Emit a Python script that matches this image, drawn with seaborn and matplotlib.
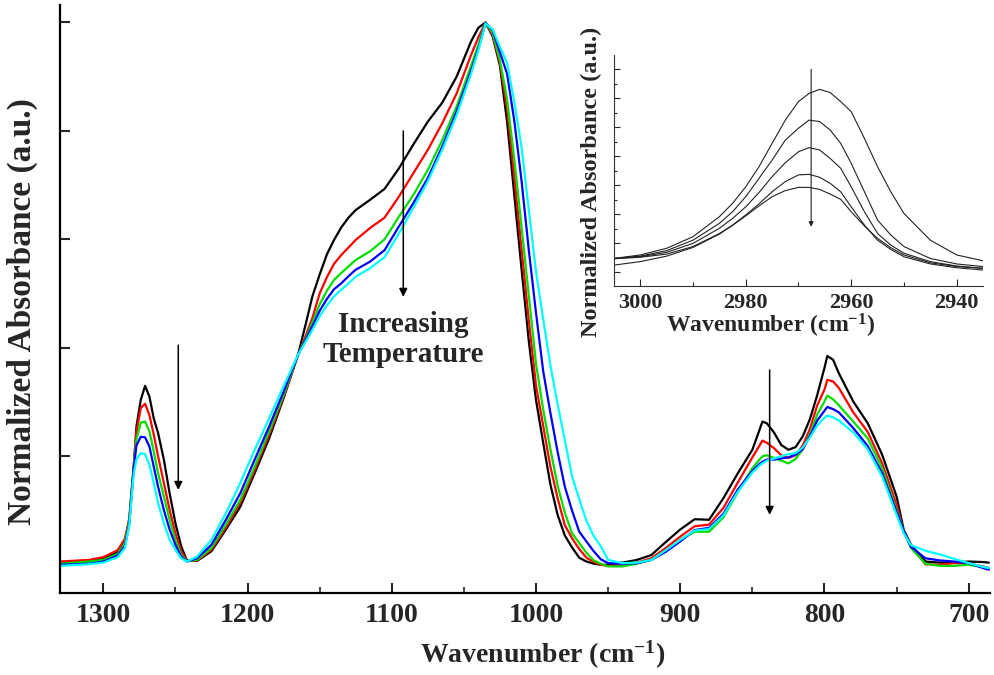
import numpy as np
import pandas as pd
import matplotlib
matplotlib.use("Agg")
import matplotlib.pyplot as plt
import seaborn as sns
from matplotlib.ticker import MultipleLocator

# === main spectra (normalized absorbance) ===
wavenumber = [1330, 1310, 1300, 1290, 1285, 1282, 1279, 1277, 1274, 1271, 1268, 1265, 1262, 1258, 1254, 1250, 1246, 1242,
              1235, 1225, 1215, 1205, 1195, 1185, 1175, 1165, 1160, 1155, 1150, 1145, 1140, 1135, 1130, 1125, 1115, 1105,
              1095, 1085, 1075, 1065, 1055, 1045, 1040, 1035,
              1030, 1025, 1020, 1015, 1010, 1005, 1000, 995, 990, 985, 980, 975, 970, 965, 960, 955, 950,
              940, 930, 920, 910, 900, 890, 880, 870, 860, 850, 845, 843, 840, 835, 830, 825, 820, 815, 810, 805,
              800, 798, 794, 790, 780, 770, 760, 750, 745, 740, 730, 720, 710, 700, 690, 686]

abs_black = [0.004, 0.007, 0.012, 0.023, 0.043, 0.080, 0.175, 0.255, 0.304, 0.330, 0.310, 0.270, 0.243, 0.194, 0.132, 0.077, 0.034, 0.008,
             0.007, 0.025, 0.065, 0.107, 0.169, 0.233, 0.307, 0.387, 0.440, 0.495, 0.535, 0.572, 0.599, 0.622, 0.640, 0.654, 0.673, 0.693,
             0.731, 0.775, 0.817, 0.852, 0.900, 0.965, 0.990, 1.0,
             0.974, 0.920, 0.816, 0.681, 0.545, 0.413, 0.304, 0.225, 0.148, 0.092, 0.054, 0.032, 0.013, 0.006, 0.002, 0.0, 0.0,
             0.004, 0.009, 0.018, 0.042, 0.065, 0.084, 0.083, 0.123, 0.169, 0.212, 0.249, 0.264, 0.261, 0.244, 0.221, 0.212, 0.217, 0.237, 0.269, 0.313,
             0.363, 0.385, 0.378, 0.353, 0.301, 0.261, 0.203, 0.126, 0.064, 0.037, 0.006, 0.004, 0.004, 0.006, 0.005, 0.004]

abs_red = [0.006, 0.009, 0.014, 0.027, 0.048, 0.085, 0.180, 0.245, 0.289, 0.297, 0.276, 0.240, 0.200, 0.151, 0.101, 0.058, 0.025, 0.007,
           0.008, 0.028, 0.069, 0.114, 0.175, 0.240, 0.310, 0.387, 0.420, 0.455, 0.500, 0.530, 0.555, 0.571, 0.585, 0.599, 0.621, 0.640,
           0.679, 0.722, 0.765, 0.814, 0.869, 0.940, 0.972, 1.0,
           0.977, 0.925, 0.841, 0.714, 0.582, 0.451, 0.331, 0.256, 0.181, 0.123, 0.073, 0.049, 0.029, 0.013, 0.005, 0.0, -0.002,
           -0.001, 0.004, 0.012, 0.031, 0.052, 0.071, 0.074, 0.105, 0.152, 0.198, 0.220, 0.229, 0.225, 0.215, 0.202, 0.197, 0.202, 0.220, 0.251, 0.294,
           0.323, 0.341, 0.338, 0.326, 0.281, 0.245, 0.187, 0.111, 0.060, 0.034, 0.001, 0.0, 0.003, 0.002, -0.003, -0.006]

abs_green = [0.002, 0.006, 0.009, 0.020, 0.040, 0.080, 0.178, 0.232, 0.262, 0.264, 0.246, 0.209, 0.169, 0.126, 0.083, 0.046, 0.018, 0.007,
             0.009, 0.031, 0.074, 0.120, 0.181, 0.246, 0.313, 0.387, 0.415, 0.447, 0.480, 0.505, 0.525, 0.538, 0.550, 0.562, 0.578, 0.600,
             0.642, 0.682, 0.728, 0.783, 0.845, 0.920, 0.958, 1.0,
             0.980, 0.930, 0.858, 0.747, 0.623, 0.497, 0.371, 0.286, 0.213, 0.146, 0.096, 0.058, 0.040, 0.022, 0.008, 0.002, -0.003,
             -0.003, 0.002, 0.009, 0.026, 0.046, 0.061, 0.061, 0.088, 0.134, 0.178, 0.194, 0.200, 0.202, 0.197, 0.192, 0.187, 0.195, 0.213, 0.241, 0.277,
             0.301, 0.312, 0.305, 0.294, 0.264, 0.233, 0.178, 0.101, 0.062, 0.031, 0.002, -0.002, -0.002, 0.0, -0.004, -0.006]

abs_blue = [0.0, 0.002, 0.006, 0.017, 0.035, 0.075, 0.175, 0.220, 0.236, 0.235, 0.218, 0.181, 0.144, 0.101, 0.065, 0.037, 0.015, 0.006,
            0.012, 0.037, 0.083, 0.132, 0.194, 0.255, 0.319, 0.387, 0.413, 0.440, 0.468, 0.490, 0.508, 0.519, 0.532, 0.544, 0.559, 0.580,
            0.624, 0.667, 0.713, 0.771, 0.836, 0.911, 0.951, 0.999,
            0.985, 0.945, 0.905, 0.818, 0.708, 0.581, 0.465, 0.357, 0.280, 0.208, 0.144, 0.100, 0.061, 0.043, 0.025, 0.010, 0.003,
            0.002, 0.003, 0.009, 0.024, 0.043, 0.064, 0.068, 0.094, 0.139, 0.173, 0.186, 0.190, 0.194, 0.194, 0.196, 0.198, 0.203, 0.213, 0.238, 0.266,
            0.284, 0.291, 0.287, 0.281, 0.252, 0.219, 0.169, 0.098, 0.062, 0.033, 0.012, 0.008, 0.006, 0.003, -0.006, -0.009]

abs_cyan = [-0.002, 0.001, 0.004, 0.014, 0.031, 0.072, 0.165, 0.194, 0.206, 0.204, 0.184, 0.151, 0.114, 0.077, 0.046, 0.028, 0.012, 0.006,
            0.015, 0.046, 0.095, 0.151, 0.212, 0.270, 0.329, 0.387, 0.410, 0.433, 0.458, 0.478, 0.495, 0.507, 0.519, 0.531, 0.547, 0.567,
            0.611, 0.658, 0.707, 0.765, 0.829, 0.905, 0.948, 0.998,
            0.987, 0.955, 0.925, 0.853, 0.770, 0.655, 0.541, 0.453, 0.368, 0.296, 0.230, 0.163, 0.121, 0.081, 0.053, 0.034, 0.009,
            0.003, 0.004, 0.009, 0.027, 0.046, 0.063, 0.066, 0.091, 0.135, 0.170, 0.183, 0.187, 0.192, 0.196, 0.200, 0.204, 0.206, 0.216, 0.235, 0.257,
            0.271, 0.275, 0.272, 0.266, 0.244, 0.213, 0.163, 0.092, 0.058, 0.036, 0.026, 0.019, 0.011, 0.003, -0.004, -0.006]

spectra = ["T1", "T2", "T3", "T4", "T5"]
colors = ["#000000", "#ff0000", "#00dd00", "#0000ff", "#00ffff"]

# === inset: C-H stretch band ===
inset_wn = [3005, 3000, 2995, 2990, 2985, 2982.5, 2980, 2977.5, 2975, 2972.5, 2970, 2968, 2966, 2964, 2962, 2960,
            2957.5, 2955, 2952.5, 2950, 2945, 2940, 2935]
inset_1 = [0.48, 0.60, 0.83, 1.23, 1.92, 2.38, 2.95, 3.64, 4.45, 5.25, 5.89, 6.17, 6.31, 6.20, 5.89, 5.54,
           4.62, 3.64, 2.78, 2.03, 1.11, 0.60, 0.40]
inset_2 = [0.48, 0.56, 0.75, 1.11, 1.69, 2.09, 2.61, 3.24, 3.87, 4.56, 4.97, 5.25, 5.20, 4.91, 4.45, 3.76,
           2.78, 1.80, 1.29, 0.89, 0.48, 0.29, 0.20]
inset_3 = [0.48, 0.54, 0.69, 1.00, 1.52, 1.86, 2.26, 2.75, 3.30, 3.78, 4.16, 4.30, 4.22, 3.93, 3.59, 2.95,
           2.09, 1.34, 0.94, 0.66, 0.37, 0.22, 0.14]
inset_4 = [0.47, 0.52, 0.63, 0.89, 1.34, 1.63, 1.98, 2.36, 2.78, 3.13, 3.36, 3.38, 3.28, 3.07, 2.78, 2.26,
           1.63, 1.11, 0.79, 0.54, 0.29, 0.16, 0.08]
inset_5 = [0.25, 0.37, 0.56, 0.86, 1.32, 1.62, 1.95, 2.29, 2.61, 2.82, 2.93, 2.93, 2.86, 2.70, 2.52, 2.09,
           1.60, 1.17, 0.85, 0.60, 0.33, 0.20, 0.14]

# === long-form tables ===
main_df = pd.DataFrame({
    "wn": wavenumber * 5,
    "absorbance": abs_black + abs_red + abs_green + abs_blue + abs_cyan,
    "spectrum": [s for s in spectra for _ in wavenumber],
})
inset_df = pd.DataFrame({
    "wn": inset_wn * 5,
    "absorbance": inset_1 + inset_2 + inset_3 + inset_4 + inset_5,
    "spectrum": [s for s in spectra for _ in inset_wn],
})

sns.set_theme(style="ticks")
plt.rcParams['font.family'] = ['Liberation Serif', 'DejaVu Serif']
plt.rcParams['font.weight'] = 'bold'
plt.rcParams['mathtext.fontset'] = 'custom'
plt.rcParams['mathtext.rm'] = 'Liberation Serif:bold'
plt.rcParams['mathtext.it'] = 'Liberation Serif:bold'
plt.rcParams['mathtext.bf'] = 'Liberation Serif:bold'

fig = plt.figure(figsize=(9.95, 6.75), dpi=100)
ax = fig.add_axes([0.0603, 0.1215, 0.935, 0.871])

sns.lineplot(data=main_df, x="wn", y="absorbance", hue="spectrum", palette=colors,
             linewidth=1.6, legend=False, estimator=None, ax=ax)

ax.set_xlim(1330, 685)
ax.set_ylim(-0.052, 1.032)
ax.xaxis.set_major_locator(MultipleLocator(100))
ax.xaxis.set_minor_locator(MultipleLocator(50))
ax.set_yticks([0.2, 0.4, 0.6, 0.8, 1.0])
ax.set_yticklabels([])
ax.tick_params(axis="x", which="major", direction="in", length=7, width=1.5, labelsize=20, pad=7)
ax.tick_params(axis="x", which="minor", direction="in", length=4, width=1.2)
ax.tick_params(axis="y", which="major", direction="in", length=7, width=1.5)
for side in ["top", "right"]:
    ax.spines[side].set_visible(False)
for side in ["left", "bottom"]:
    ax.spines[side].set_linewidth(1.6)
    ax.spines[side].set_color("black")

ax.set_xlabel(r"Wavenumber (cm$^{-1}$)", fontsize=20, fontweight="bold")
ax.set_ylabel("Normalized Absorbance (a.u.)", fontsize=24, fontweight="bold")
ax.xaxis.set_label_coords(0.519, -0.078)
ax.yaxis.set_label_coords(-0.024, 0.478)

arrow = dict(arrowstyle="-|>", color="black", lw=1.1, mutation_scale=12, shrinkA=0, shrinkB=0)
ax.annotate("", xy=(1248, 0.138), xytext=(1248, 0.405), arrowprops=arrow)
ax.annotate("", xy=(1092, 0.494), xytext=(1092, 0.80), arrowprops=arrow)
ax.annotate("", xy=(838, 0.092), xytext=(838, 0.359), arrowprops=arrow)
ax.text(1092, 0.416, "Increasing\nTemperature", ha="center", va="center",
        fontsize=21, fontweight="bold", linespacing=1.15)

# === inset ===
ax2 = fig.add_axes([0.617, 0.5763, 0.371, 0.342])
ax2.set_facecolor("white")
sns.lineplot(data=inset_df, x="wn", y="absorbance", hue="spectrum",
             palette=["#222222"] * 5, linewidth=0.8, legend=False, estimator=None, ax=ax2)
ax2.set_xlim(3005, 2935)
ax2.set_ylim(-0.47, 7.49)
ax2.xaxis.set_major_locator(MultipleLocator(20))
ax2.xaxis.set_minor_locator(MultipleLocator(10))
ax2.yaxis.set_major_locator(MultipleLocator(1))
ax2.yaxis.set_minor_locator(MultipleLocator(0.5))
ax2.set_yticklabels([])
ax2.tick_params(axis="x", which="major", direction="in", length=5, width=0.8, labelsize=16, pad=5)
ax2.tick_params(axis="x", which="minor", direction="in", length=3, width=0.8)
ax2.tick_params(axis="y", which="major", direction="in", length=4, width=0.8)
ax2.tick_params(axis="y", which="minor", direction="in", length=2.5, width=0.8)
for side in ["top", "right"]:
    ax2.spines[side].set_visible(False)
for side in ["left", "bottom"]:
    ax2.spines[side].set_linewidth(0.8)
    ax2.spines[side].set_color("#333333")
ax2.set_xlabel(r"Wavenumber (cm$^{-1}$)", fontsize=17, fontweight="bold")
ax2.set_ylabel("Normalized Absorbance (a.u.)", fontsize=17.5, fontweight="bold")
ax2.xaxis.set_label_coords(0.425, -0.112)
ax2.yaxis.set_label_coords(-0.033, 0.45)
ax2.annotate("", xy=(2967.6, 1.57), xytext=(2967.6, 7.0),
             arrowprops=dict(arrowstyle="-|>", color="#222222", lw=0.8, mutation_scale=7, shrinkA=0, shrinkB=0))

fig.savefig("out.png", dpi=100)
